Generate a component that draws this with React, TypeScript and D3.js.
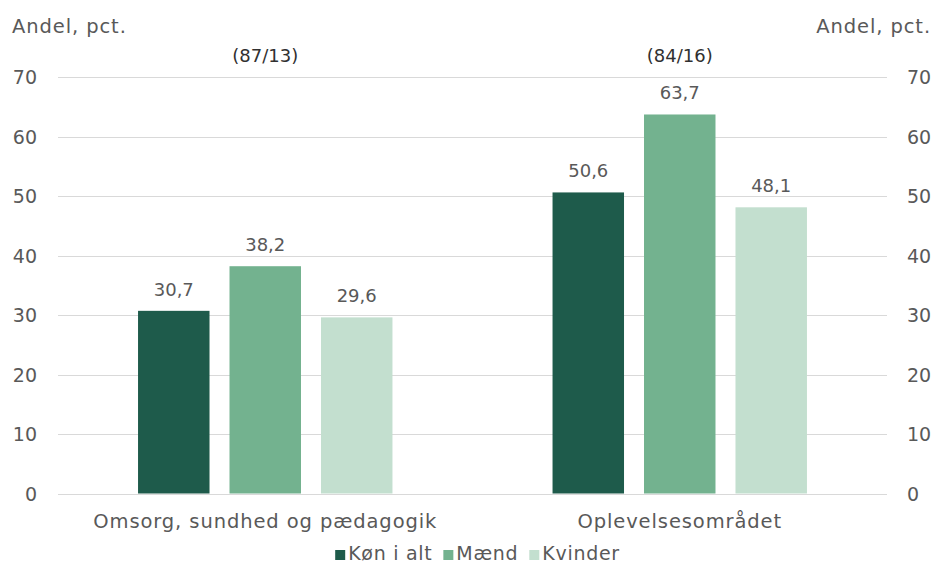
import React, { useEffect, useRef } from "react";
import * as d3 from "d3";

const categories = ["Omsorg, sundhed og pædagogik", "Oplevelsesområdet"];
const annotations = ["(87/13)", "(84/16)"];
const seriesNames = ["Køn i alt", "Mænd", "Kvinder"];
const seriesColors = ["#1E5B4B", "#73B28F", "#C3DFCF"];
const konIAlt = [30.7, 50.6];
const maend = [38.2, 63.7];
const kvinder = [29.6, 48.1];
const yTicks = [0, 10, 20, 30, 40, 50, 60, 70];
const axisTitle = "Andel, pct.";

const W = 938;
const H = 565;
const FONT = "'DejaVu Sans', sans-serif";
const TEXT = "#595959";

export default function App() {
  const ref = useRef<SVGSVGElement | null>(null);

  useEffect(() => {
    const svg = d3.select(ref.current);
    svg.selectAll("*").remove();

    const series = [konIAlt, maend, kvinder];
    const plotLeft = 58;
    const plotRight = 887;
    const y = d3.scaleLinear().domain([0, 70]).range([493.5, 77]);
    const x0 = d3.scaleBand<string>().domain(categories).range([plotLeft, plotRight]).padding(0);
    const x1 = d3
      .scaleBand<string>()
      .domain(seriesNames)
      .range([0, x0.bandwidth()])
      .paddingInner(0.2186)
      .paddingOuter(0.875);

    // gridlines
    svg
      .append("g")
      .selectAll("line")
      .data(yTicks)
      .join("line")
      .attr("x1", plotLeft)
      .attr("x2", plotRight)
      .attr("y1", (d) => Math.round(y(d)) + 0.5)
      .attr("y2", (d) => Math.round(y(d)) + 0.5)
      .attr("stroke", "#D9D9D9")
      .attr("stroke-width", 1);

    // left ticks
    svg
      .append("g")
      .selectAll("text")
      .data(yTicks)
      .join("text")
      .attr("x", 37)
      .attr("y", (d) => y(d) + 7)
      .attr("text-anchor", "end")
      .attr("font-family", FONT)
      .attr("font-size", 19)
      .attr("fill", TEXT)
      .text((d) => String(d));

    // right ticks
    svg
      .append("g")
      .selectAll("text")
      .data(yTicks)
      .join("text")
      .attr("x", 907)
      .attr("y", (d) => y(d) + 7)
      .attr("text-anchor", "start")
      .attr("font-family", FONT)
      .attr("font-size", 19)
      .attr("fill", TEXT)
      .text((d) => String(d));

    // axis titles
    svg
      .append("text")
      .attr("x", 12)
      .attr("y", 33)
      .attr("font-family", FONT)
      .attr("font-size", 19.5)
      .attr("letter-spacing", 0.9)
      .attr("fill", TEXT)
      .text(axisTitle);
    svg
      .append("text")
      .attr("x", 931)
      .attr("y", 33)
      .attr("text-anchor", "end")
      .attr("font-family", FONT)
      .attr("font-size", 19.5)
      .attr("letter-spacing", 0.9)
      .attr("fill", TEXT)
      .text(axisTitle);

    // bars
    const groups = svg
      .append("g")
      .selectAll("g")
      .data(categories)
      .join("g")
      .attr("transform", (c) => `translate(${x0(c)},0)`);

    groups.each(function (c, ci) {
      const g = d3.select(this);
      const rows = seriesNames.map((s, si) => ({ s, si, v: series[si][ci] }));
      g.selectAll("rect")
        .data(rows)
        .join("rect")
        .attr("x", (d) => x1(d.s) as number)
        .attr("width", x1.bandwidth())
        .attr("y", (d) => y(d.v))
        .attr("height", (d) => y(0) - y(d.v))
        .attr("fill", (d) => seriesColors[d.si]);
      g.selectAll("text.val")
        .data(rows)
        .join("text")
        .attr("class", "val")
        .attr("x", (d) => (x1(d.s) as number) + x1.bandwidth() / 2)
        .attr("y", (d) => y(d.v) - 15)
        .attr("text-anchor", "middle")
        .attr("font-family", FONT)
        .attr("font-size", 18)
        .attr("fill", TEXT)
        .text((d) => d.v.toFixed(1).replace(".", ","));
    });

    // annotations
    svg
      .append("g")
      .selectAll("text")
      .data(categories)
      .join("text")
      .attr("x", (c) => (x0(c) as number) + x0.bandwidth() / 2)
      .attr("y", 62)
      .attr("text-anchor", "middle")
      .attr("font-family", FONT)
      .attr("font-size", 18)
      .attr("fill", "#303030")
      .text((c, i) => annotations[i]);

    // category labels
    svg
      .append("g")
      .selectAll("text")
      .data(categories)
      .join("text")
      .attr("x", (c) => (x0(c) as number) + x0.bandwidth() / 2)
      .attr("y", 528)
      .attr("text-anchor", "middle")
      .attr("font-family", FONT)
      .attr("font-size", 19.5)
      .attr("letter-spacing", 0.9)
      .attr("fill", TEXT)
      .text((c) => c);

    // legend: flow items by measured width, centred
    const legend = svg.append("g");
    const items = legend
      .selectAll("g")
      .data(seriesNames)
      .join("g");
    items
      .append("rect")
      .attr("x", 0)
      .attr("y", 550)
      .attr("width", 10)
      .attr("height", 10)
      .attr("fill", (d, i) => seriesColors[i]);
    const texts = items
      .append("text")
      .attr("x", 13)
      .attr("y", 560)
      .attr("font-family", FONT)
      .attr("font-size", 19)
      .attr("letter-spacing", 0.7)
      .attr("fill", TEXT)
      .text((d) => d);
    const widths: number[] = [];
    texts.each(function () {
      widths.push(13 + (this as SVGTextElement).getComputedTextLength());
    });
    const gap = 11;
    const total = d3.sum(widths) + gap * (widths.length - 1);
    let cx = 477.5 - total / 2;
    const offsets: number[] = [];
    widths.forEach((w) => {
      offsets.push(cx);
      cx += w + gap;
    });
    items.attr("transform", (d, i) => `translate(${offsets[i]},0)`);
  }, []);

  return (
    <svg
      ref={ref}
      width={W}
      height={H}
      style={{ position: "absolute", left: 0, top: 0, background: "#fff" }}
    />
  );
}
